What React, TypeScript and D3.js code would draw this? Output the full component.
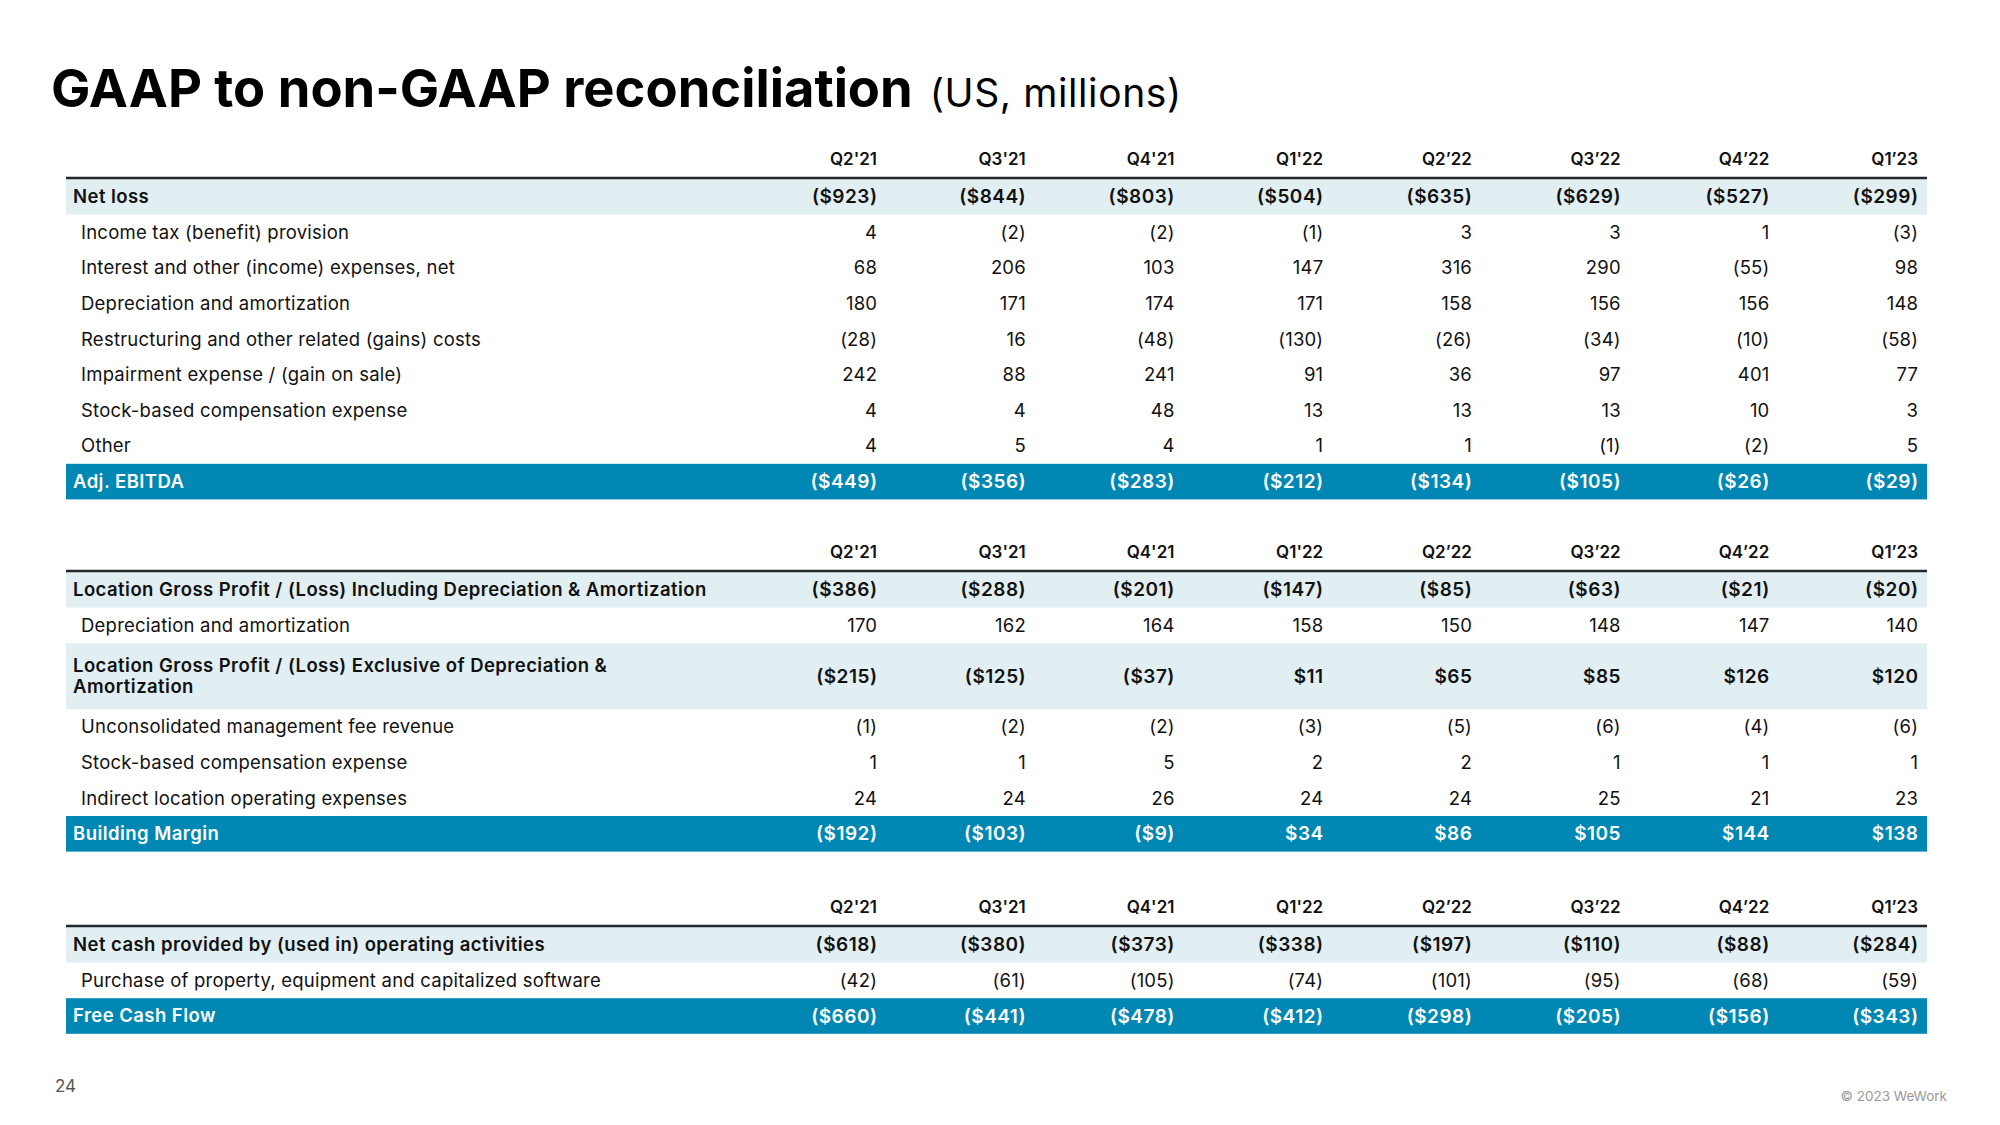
import React from "react";
import * as d3 from "d3";

const quarters = ["Q2'21", "Q3'21", "Q4'21", "Q1'22", "Q2’22", "Q3’22", "Q4’22", "Q1’23"];

// Section 1: Adj. EBITDA
const netLoss = [-923, -844, -803, -504, -635, -629, -527, -299];
const incomeTax = [4, -2, -2, -1, 3, 3, 1, -3];
const interestOther = [68, 206, 103, 147, 316, 290, -55, 98];
const depAmort1 = [180, 171, 174, 171, 158, 156, 156, 148];
const restructuring = [-28, 16, -48, -130, -26, -34, -10, -58];
const impairment = [242, 88, 241, 91, 36, 97, 401, 77];
const stockComp1 = [4, 4, 48, 13, 13, 13, 10, 3];
const other = [4, 5, 4, 1, 1, -1, -2, 5];
const adjEbitda = [-449, -356, -283, -212, -134, -105, -26, -29];

// Section 2: Building Margin
const lgpIncl = [-386, -288, -201, -147, -85, -63, -21, -20];
const depAmort2 = [170, 162, 164, 158, 150, 148, 147, 140];
const lgpExcl = [-215, -125, -37, 11, 65, 85, 126, 120];
const unconsolidatedFee = [-1, -2, -2, -3, -5, -6, -4, -6];
const stockComp2 = [1, 1, 5, 2, 2, 1, 1, 1];
const indirectOpex = [24, 24, 26, 24, 24, 25, 21, 23];
const buildingMargin = [-192, -103, -9, 34, 86, 105, 144, 138];

// Section 3: Free Cash Flow
const netCashOps = [-618, -380, -373, -338, -197, -110, -88, -284];
const purchasePPE = [-42, -61, -105, -74, -101, -95, -68, -59];
const freeCashFlow = [-660, -441, -478, -412, -298, -205, -156, -343];

type Kind = "total" | "item" | "result";
type Row = { label: string[]; values: number[]; kind: Kind };

const sections: Row[][] = [
  [
    { label: ["Net loss"], values: netLoss, kind: "total" },
    { label: ["Income tax (benefit) provision"], values: incomeTax, kind: "item" },
    { label: ["Interest and other (income) expenses, net"], values: interestOther, kind: "item" },
    { label: ["Depreciation and amortization"], values: depAmort1, kind: "item" },
    { label: ["Restructuring and other related (gains) costs"], values: restructuring, kind: "item" },
    { label: ["Impairment expense / (gain on sale)"], values: impairment, kind: "item" },
    { label: ["Stock-based compensation expense"], values: stockComp1, kind: "item" },
    { label: ["Other"], values: other, kind: "item" },
    { label: ["Adj. EBITDA"], values: adjEbitda, kind: "result" },
  ],
  [
    { label: ["Location Gross Profit / (Loss) Including Depreciation & Amortization"], values: lgpIncl, kind: "total" },
    { label: ["Depreciation and amortization"], values: depAmort2, kind: "item" },
    { label: ["Location Gross Profit / (Loss) Exclusive of Depreciation &", "Amortization"], values: lgpExcl, kind: "total" },
    { label: ["Unconsolidated management fee revenue"], values: unconsolidatedFee, kind: "item" },
    { label: ["Stock-based compensation expense"], values: stockComp2, kind: "item" },
    { label: ["Indirect location operating expenses"], values: indirectOpex, kind: "item" },
    { label: ["Building Margin"], values: buildingMargin, kind: "result" },
  ],
  [
    { label: ["Net cash provided by (used in) operating activities"], values: netCashOps, kind: "total" },
    { label: ["Purchase of property, equipment and capitalized software"], values: purchasePPE, kind: "item" },
    { label: ["Free Cash Flow"], values: freeCashFlow, kind: "result" },
  ],
];

const FONT = "Inter, 'Noto Sans', sans-serif";
const LIGHT = "#e1eff2";
const DARK = "#0087b3";
const INK = "#111111";

const sectionTops = [178, 571, 926];
const ROW_H = 35.6;
const TWO_H = 66;
const LEFT = 66;
const RIGHT = 1927;

function fmt(v: number, dollar: boolean) {
  const s = (dollar ? "$" : "") + d3.format("d")(Math.abs(v));
  return v < 0 ? `(${s})` : s;
}

export default function App() {
  const x = d3.scalePoint<string>().domain(quarters).range([877, 1918]);

  return (
    <svg
      width={2000}
      height={1125}
      style={{ position: "absolute", left: 0, top: 0, background: "#fff" }}
      fontFamily={FONT}
    >
      <rect width={2000} height={1125} fill="#fff" />
      <text x={51} y={107} fill="#000" style={{ fontSize: 52.5, fontWeight: 700 }}>
        GAAP to non-GAAP reconciliation
        <tspan dx={17} style={{ fontSize: 39, fontWeight: 400, letterSpacing: 0.6 }}>
          (US, millions)
        </tspan>
      </text>

      {sections.map((rows, si) => {
        const top = sectionTops[si];
        let y = top + 1;
        const rowEls = rows.map((r, ri) => {
          const h = r.label.length > 1 ? TWO_H : ROW_H;
          const y0 = y;
          y += h;
          const cy = y0 + h / 2;
          const bold = r.kind !== "item";
          const fill = r.kind === "result" ? "#fff" : INK;
          const lx = r.kind === "item" ? 81 : 73;
          const valLs = bold ? 0.5 : 0.2;
          return (
            <g key={ri}>
              {r.kind !== "item" && (
                <rect x={LEFT} y={y0} width={RIGHT - LEFT} height={h} fill={r.kind === "total" ? LIGHT : DARK} />
              )}
              {r.label.map((l, li) => (
                <text
                  key={li}
                  x={lx}
                  y={cy + (li - (r.label.length - 1) / 2) * 21}
                  dy="0.35em"
                  fill={fill}
                  style={{ fontSize: 18.5, fontWeight: bold ? 600 : 400, letterSpacing: bold ? 0.45 : 0.23 }}
                >
                  {l}
                </text>
              ))}
              {r.values.map((v, vi) => (
                <text
                  key={vi}
                  x={(x(quarters[vi]) as number) + valLs}
                  y={cy}
                  dy="0.35em"
                  textAnchor="end"
                  fill={fill}
                  style={{ fontSize: bold ? 19 : 18.5, fontWeight: bold ? 600 : 400, letterSpacing: valLs }}
                >
                  {fmt(v, bold)}
                </text>
              ))}
            </g>
          );
        });
        return (
          <g key={si}>
            {quarters.map((q) => (
              <text
                key={q}
                x={x(q)}
                y={top - 13}
                textAnchor="end"
                fill={INK}
                style={{ fontSize: 17, fontWeight: 600 }}
              >
                {q}
              </text>
            ))}
            {rowEls}
            <line x1={LEFT} x2={RIGHT} y1={top} y2={top} stroke="#23272b" strokeWidth={2.5} />
          </g>
        );
      })}

      <text x={55} y={1092} fill="#555" style={{ fontSize: 17 }}>
        24
      </text>
      <text x={1947} y={1101} textAnchor="end" fill="#999" style={{ fontSize: 13.5 }}>
        © 2023 WeWork
      </text>
    </svg>
  );
}
